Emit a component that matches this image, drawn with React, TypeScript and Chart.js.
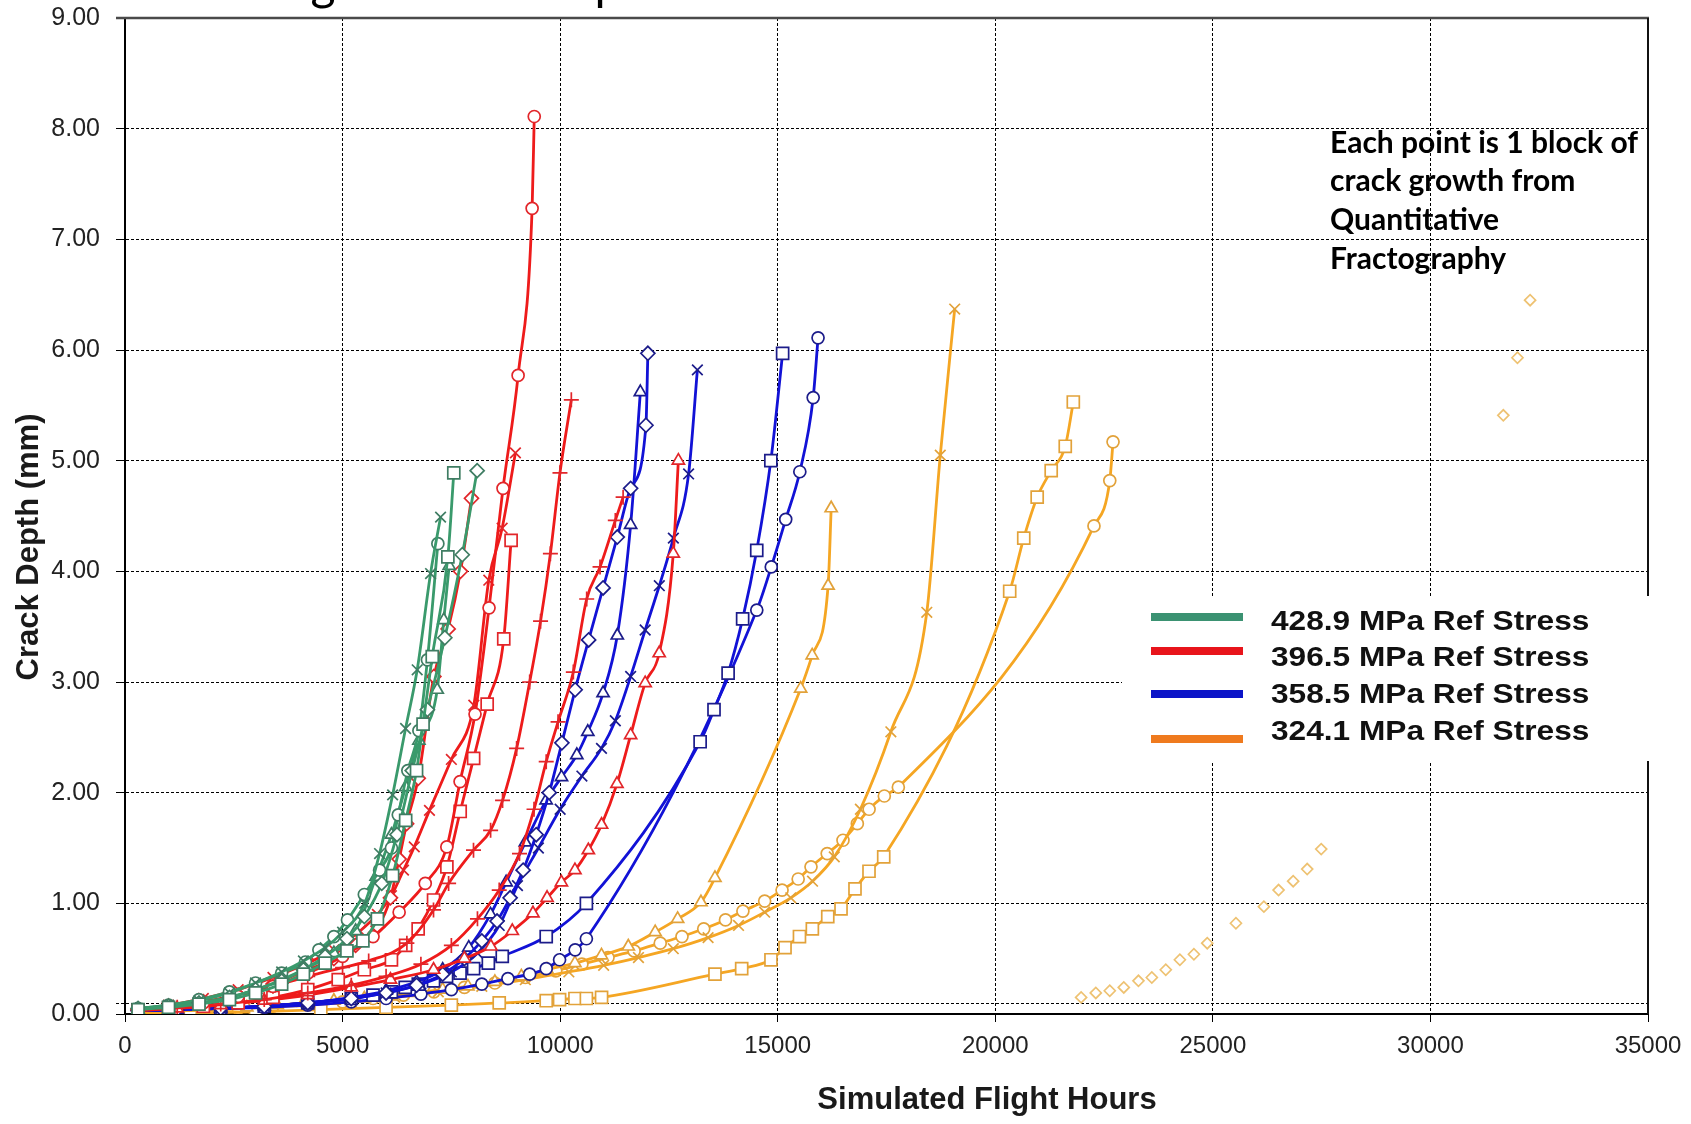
import React, { useEffect, useRef } from 'react';
import { Chart, registerables } from 'chart.js';

Chart.register(...registerables);

type P = [number, number];

// ---------- axis / text content ----------
const X_MIN = 0;
const X_MAX = 35000;
const X_STEP = 5000;
const Y_MIN = 0;
const Y_MAX = 9;
const Y_STEP = 1;
const REF_LINE_Y = 0.1;

const LEGEND_LABELS = ['428.9 MPa Ref Stress', '396.5 MPa Ref Stress', '358.5 MPa Ref Stress', '324.1 MPa Ref Stress'];
const NOTE_LINES = ['Each point is 1 block of', 'crack growth from', 'Quantitative', 'Fractography'];
const X_TITLE = 'Simulated Flight Hours';
const Y_TITLE = 'Crack Depth (mm)';
const PAGE_TITLE = 'Fatigue Crack Depth Results at Four Stress Levels';

// ---------- 428.9 MPa (green) ----------
const gSquare: P[] = [[300,0.04],[1000,0.06],[1700,0.09],[2400,0.13],[3000,0.19],[3600,0.27],[4100,0.36],[4600,0.46],[5100,0.57],[5467,0.66],[5800,0.86],[6150,1.25],[6450,1.75],[6700,2.2],[6850,2.62],[7061,3.23],[7420,4.13],[7556,4.89]];
const gDiamond: P[] = [[300,0.05],[1000,0.07],[1700,0.1],[2400,0.15],[3000,0.22],[3600,0.3],[4100,0.4],[4600,0.52],[5100,0.68],[5500,0.88],[5900,1.18],[6250,1.62],[6600,2.2],[6950,2.75],[7350,3.4],[7750,4.15],[8093,4.91]];
const gCross: P[] = [[300,0.05],[1000,0.08],[1700,0.12],[2400,0.19],[3000,0.28],[3600,0.38],[4100,0.48],[4600,0.6],[5000,0.74],[5507,1.0],[5850,1.45],[6150,1.98],[6448,2.58],[6715,3.11],[7022,3.98],[7252,4.49]];
const gCircle: P[] = [[300,0.05],[1000,0.08],[1700,0.13],[2400,0.2],[3000,0.28],[3600,0.37],[4146,0.47],[4455,0.58],[4800,0.7],[5113,0.85],[5500,1.08],[5850,1.3],[6123,1.5],[6280,1.8],[6500,2.2],[6754,2.56],[6950,3.2],[7190,4.25]];
const gTriangle: P[] = [[300,0.04],[1000,0.07],[1700,0.1],[2400,0.15],[3000,0.22],[3600,0.31],[4200,0.42],[4800,0.55],[5300,0.75],[5771,1.24],[6123,1.62],[6450,2.05],[6754,2.47],[7175,2.93],[7326,3.56],[7450,4.05]];

// ---------- 396.5 MPa (red) ----------
const rCircle: P[] = [[300,0.04],[1000,0.06],[1800,0.1],[2600,0.16],[3400,0.25],[4200,0.37],[5000,0.52],[5700,0.7],[6300,0.92],[6900,1.18],[7396,1.51],[7700,2.1],[8044,2.71],[8366,3.67],[8687,4.75],[9034,5.77],[9356,7.28],[9405,8.11]];
const rPlus: P[] = [[300,0.04],[1000,0.07],[1800,0.11],[2600,0.17],[3400,0.25],[4200,0.34],[5000,0.42],[5600,0.48],[6478,0.64],[7090,0.94],[7437,1.18],[8009,1.48],[8402,1.66],[8677,1.93],[9000,2.4],[9300,3.0],[9550,3.55],[9776,4.16],[9996,4.89],[10257,5.55]];
const rPlus2: P[] = [[300,0.04],[1200,0.06],[2200,0.09],[3200,0.13],[4200,0.19],[5200,0.26],[6000,0.34],[6800,0.45],[7500,0.62],[8100,0.86],[8600,1.12],[9066,1.45],[9400,1.85],[9680,2.28],[9952,2.64],[10303,3.09],[10610,3.75],[10917,4.04],[11268,4.46],[11447,4.67]];
const rSquare: P[] = [[300,0.03],[1000,0.05],[1800,0.07],[2600,0.1],[3400,0.15],[4200,0.22],[4900,0.31],[5500,0.4],[6123,0.49],[6450,0.62],[6737,0.77],[7091,1.03],[7397,1.33],[7703,1.83],[8012,2.31],[8323,2.8],[8704,3.39],[8873,4.28]];
const rDiamond: P[] = [[300,0.04],[1000,0.07],[1800,0.11],[2600,0.17],[3400,0.27],[4200,0.4],[4800,0.5],[5300,0.62],[5817,0.79],[6100,1.05],[6300,1.4],[6472,1.72],[6739,2.13],[7098,3.05],[7427,3.48],[7710,4.0],[7962,4.66]];
const rCross: P[] = [[300,0.04],[1000,0.08],[1800,0.14],[2600,0.22],[3400,0.33],[4200,0.46],[4800,0.58],[5400,0.75],[5800,0.9],[6123,1.07],[6400,1.3],[6648,1.51],[6997,1.84],[7500,2.3],[8016,2.79],[8360,3.92],[8667,4.39],[8972,5.07]];
const rTriangle: P[] = [[300,0.03],[1200,0.05],[2200,0.08],[3200,0.12],[4200,0.17],[5200,0.24],[6100,0.31],[7091,0.4],[7800,0.5],[8408,0.61],[8900,0.75],[9375,0.91],[9700,1.05],[10029,1.19],[10340,1.3],[10648,1.48],[10952,1.71],[11306,2.08],[11620,2.52],[11954,2.99],[12276,3.26],[12600,4.16],[12717,5.0]];

// ---------- 358.5 MPa (blue) ----------
const bDiamond: P[] = [[300,0.03],[1200,0.04],[2200,0.05],[3200,0.07],[4200,0.1],[5200,0.14],[6000,0.19],[6700,0.26],[7300,0.36],[7800,0.5],[8200,0.66],[8550,0.84],[8850,1.05],[9150,1.3],[9450,1.62],[9750,2.0],[10040,2.45],[10345,2.93],[10655,3.38],[10987,3.85],[11313,4.31],[11620,4.75],[11972,5.32],[12016,5.97]];
const bTriangle: P[] = [[300,0.03],[1200,0.04],[2200,0.05],[3200,0.07],[4200,0.1],[5200,0.15],[6000,0.21],[6700,0.29],[7300,0.4],[7900,0.6],[8400,0.9],[8759,1.19],[9200,1.55],[9678,1.93],[10031,2.14],[10383,2.34],[10636,2.55],[10987,2.9],[11313,3.42],[11620,4.42],[11843,5.62]];
const bCross: P[] = [[300,0.03],[1200,0.04],[2200,0.05],[3200,0.07],[4200,0.1],[5200,0.14],[6000,0.19],[6800,0.27],[7500,0.38],[8100,0.55],[8600,0.8],[9019,1.16],[9500,1.5],[10000,1.85],[10500,2.15],[10950,2.4],[11268,2.65],[11620,3.05],[11954,3.47],[12279,3.87],[12602,4.3],[12952,4.88],[13154,5.82]];
const bSquare: P[] = [[300,0.03],[1200,0.04],[2200,0.05],[3200,0.07],[4200,0.1],[5200,0.14],[5700,0.17],[6120,0.2],[6440,0.24],[6740,0.27],[7090,0.3],[7390,0.34],[7700,0.37],[8011,0.41],[8350,0.46],[8670,0.52],[9680,0.7],[10603,1.0],[13217,2.46],[13536,2.75],[13860,3.08],[14194,3.57],[14518,4.19],[14842,5.0],[15113,5.97]];
const bCircle: P[] = [[300,0.03],[1200,0.04],[2200,0.05],[3200,0.06],[4200,0.08],[5200,0.11],[6000,0.14],[6800,0.18],[7500,0.22],[8200,0.27],[8800,0.32],[9300,0.36],[9680,0.41],[9987,0.49],[10345,0.58],[10603,0.68],[14519,3.65],[14852,4.04],[15184,4.47],[15508,4.9],[15815,5.57],[15927,6.11]];

// ---------- 324.1 MPa (orange) ----------
const oTriangle: P[] = [[300,0.02],[1000,0.03],[1800,0.04],[2800,0.06],[3500,0.08],[4100,0.1],[4800,0.12],[5500,0.14],[6100,0.16],[6650,0.19],[7300,0.22],[7880,0.25],[8500,0.29],[9108,0.34],[9700,0.4],[10340,0.46],[10950,0.53],[11566,0.61],[12184,0.74],[12700,0.86],[13236,1.01],[13558,1.23],[15527,2.94],[15792,3.24],[16158,3.87],[16229,4.57]];
const oCross: P[] = [[300,0.02],[1200,0.03],[2200,0.04],[3200,0.06],[4200,0.08],[5200,0.11],[6200,0.15],[7200,0.2],[8200,0.25],[9200,0.31],[10200,0.38],[11000,0.44],[11800,0.51],[12600,0.59],[13400,0.69],[14100,0.8],[14700,0.92],[15300,1.05],[15800,1.2],[16300,1.42],[16900,1.85],[17600,2.55],[18426,3.63],[18736,5.05],[19067,6.37]];
const oSquare: P[] = [[300,0.0],[1500,0.01],[3000,0.02],[4500,0.04],[6000,0.06],[7500,0.08],[8600,0.1],[9680,0.12],[9987,0.13],[10340,0.14],[10603,0.14],[10952,0.15],[13558,0.36],[14172,0.41],[14845,0.49],[15168,0.6],[15500,0.7],[15796,0.77],[16150,0.88],[16455,0.95],[16776,1.13],[17098,1.29],[17436,1.42],[20331,3.82],[20654,4.3],[20963,4.67],[21285,4.91],[21608,5.13],[21793,5.53]];
const oCircle: P[] = [[300,0.02],[1000,0.03],[1800,0.04],[2600,0.05],[3400,0.07],[4200,0.09],[5000,0.11],[5700,0.14],[6400,0.17],[7100,0.2],[7800,0.24],[8500,0.28],[9200,0.33],[9900,0.39],[10500,0.45],[11100,0.51],[11700,0.57],[12300,0.64],[12800,0.7],[13300,0.77],[13800,0.85],[14200,0.93],[14700,1.02],[15100,1.12],[15470,1.22],[15765,1.33],[16137,1.45],[16500,1.57],[16830,1.72],[17100,1.85],[17450,1.97],[17772,2.05],[22268,4.41],[22631,4.82],[22706,5.17]];
const oDiamondA: P[] = [[21973,0.15],[22310,0.19],[22631,0.21],[22953,0.24],[23290,0.3],[23597,0.33],[23918,0.4],[24242,0.49],[24564,0.54],[24871,0.64],[25530,0.82],[26173,0.97],[26510,1.12],[26846,1.2],[27168,1.31],[27490,1.49]];
const oDiamondB: P[] = [[31675,5.41],[32000,5.93],[32291,6.45]];

// ---------- series table (group = stress level index) ----------
type Spec = { data: P[]; group: number; shape: string; line: boolean; pale?: boolean };
const SERIES: Spec[] = [
  { data: gSquare, group: 0, shape: 'rect', line: true },
  { data: gDiamond, group: 0, shape: 'rectRot', line: true },
  { data: gCross, group: 0, shape: 'crossRot', line: true },
  { data: gCircle, group: 0, shape: 'circle', line: true },
  { data: gTriangle, group: 0, shape: 'triangle', line: true },
  { data: rCircle, group: 1, shape: 'circle', line: true },
  { data: rPlus, group: 1, shape: 'cross', line: true },
  { data: rPlus2, group: 1, shape: 'cross', line: true },
  { data: rSquare, group: 1, shape: 'rect', line: true },
  { data: rDiamond, group: 1, shape: 'rectRot', line: true },
  { data: rCross, group: 1, shape: 'crossRot', line: true },
  { data: rTriangle, group: 1, shape: 'triangle', line: true },
  { data: bDiamond, group: 2, shape: 'rectRot', line: true },
  { data: bTriangle, group: 2, shape: 'triangle', line: true },
  { data: bCross, group: 2, shape: 'crossRot', line: true },
  { data: bSquare, group: 2, shape: 'rect', line: true },
  { data: bCircle, group: 2, shape: 'circle', line: true },
  { data: oTriangle, group: 3, shape: 'triangle', line: true },
  { data: oCross, group: 3, shape: 'crossRot', line: true },
  { data: oSquare, group: 3, shape: 'rect', line: true },
  { data: oCircle, group: 3, shape: 'circle', line: true },
  { data: oDiamondA, group: 3, shape: 'rectRot', line: false, pale: true },
  { data: oDiamondB, group: 3, shape: 'rectRot', line: false, pale: true },
];

// ---------- styles ----------
const LINE_COLORS = ['#3a9a6c', '#ee1b1b', '#1212d6', '#f5a623'];
const MARKER_COLORS = ['#3f7d63', '#e2262a', '#1c1c8a', '#e2a23a'];
const PALE_MARKER = '#eec272';
const LEGEND_COLORS = ['#3b9272', '#e8141b', '#0b14c8', '#ef7a1e'];
const RADIUS: Record<string, number> = { rect: 8.5, circle: 6, rectRot: 7, triangle: 7, cross: 7.5, crossRot: 7.5 };
const AXIS_FONT = '"Liberation Sans", Arial, sans-serif';

const overlayPlugin = {
  id: 'overlay',
  beforeDatasetsDraw(chart: any) {
    const { ctx, chartArea: a, scales } = chart;
    ctx.save();
    // reference dashed line
    const yy = Math.round(scales.y.getPixelForValue(REF_LINE_Y)) + 0.5;
    ctx.strokeStyle = '#000';
    ctx.lineWidth = 1;
    ctx.setLineDash([3, 2]);
    ctx.beginPath();
    ctx.moveTo(a.left - 9, yy);
    ctx.lineTo(a.right, yy);
    ctx.stroke();
    ctx.setLineDash([]);
    // top frame line
    ctx.strokeStyle = '#4a4a4a';
    ctx.lineWidth = 2.5;
    ctx.beginPath();
    ctx.moveTo(a.left - 9, a.top);
    ctx.lineTo(a.right + 1, a.top);
    ctx.stroke();
    // right frame line
    ctx.strokeStyle = '#111';
    ctx.lineWidth = 2;
    ctx.beginPath();
    ctx.moveTo(a.right, a.top);
    ctx.lineTo(a.right, a.bottom);
    ctx.stroke();
    // legend backing box
    ctx.fillStyle = '#fff';
    ctx.fillRect(1122, 596, 545, 165);
    ctx.restore();
  },
  afterDraw(chart: any) {
    const { ctx } = chart;
    ctx.save();
    // cut-off page title (only descenders show)
    let size = 60;
    ctx.font = `${size}px Lato`;
    const gi = PAGE_TITLE.indexOf('g');
    const pi = PAGE_TITLE.indexOf('p');
    const center = (i: number) => ctx.measureText(PAGE_TITLE.slice(0, i)).width + ctx.measureText(PAGE_TITLE[i]).width / 2;
    const d = center(pi) - center(gi);
    size = (size * 285) / d;
    ctx.font = `${size}px Lato`;
    ctx.fillStyle = '#000';
    ctx.textBaseline = 'alphabetic';
    ctx.textAlign = 'left';
    ctx.fillText(PAGE_TITLE, 323 - center(gi), 0);

    // note text
    ctx.font = 'bold 30px Lato';
    ctx.textBaseline = 'middle';
    const noteY = [143, 181, 220, 259];
    NOTE_LINES.forEach((t, i) => ctx.fillText(t, 1330, noteY[i]));

    // axis titles
    ctx.fillStyle = '#1a1a1a';
    ctx.font = `bold 31px ${AXIS_FONT}`;
    ctx.textAlign = 'center';
    ctx.fillText(X_TITLE, 987, 1100);
    ctx.save();
    ctx.translate(29, 547);
    ctx.rotate(-Math.PI / 2);
    ctx.fillText(Y_TITLE, 0, 0);
    ctx.restore();

    // legend
    const lineYs = [617, 651, 694, 739];
    const textYs = [622, 658, 695, 732];
    LEGEND_LABELS.forEach((label, i) => {
      ctx.fillStyle = LEGEND_COLORS[i];
      ctx.fillRect(1151, lineYs[i] - 4, 92, 8);
      ctx.fillStyle = '#111';
      ctx.font = `bold 28px ${AXIS_FONT}`;
      ctx.textAlign = 'left';
      ctx.save();
      ctx.translate(1271, textYs[i]);
      ctx.scale(1.13, 1);
      ctx.fillText(label, 0, 0);
      ctx.restore();
    });
    ctx.restore();
  },
};

export default function App() {
  const ref = useRef<HTMLCanvasElement | null>(null);

  useEffect(() => {
    if (!ref.current) return;
    const datasets = SERIES.map((s) => {
      const mc = s.pale ? PALE_MARKER : MARKER_COLORS[s.group];
      return {
        data: s.data.map(([x, y]) => ({ x, y })),
        showLine: s.line,
        borderColor: LINE_COLORS[s.group],
        borderWidth: 2.8,
        cubicInterpolationMode: 'monotone' as const,
        pointStyle: s.shape,
        pointRadius: s.pale ? 5.5 : RADIUS[s.shape],
        pointBorderWidth: 1.7,
        pointBorderColor: mc,
        pointBackgroundColor: '#ffffff',
        fill: false,
      };
    });

    const chart = new Chart(ref.current, {
      type: 'line',
      data: { datasets } as any,
      options: {
        responsive: false,
        animation: false,
        devicePixelRatio: 1,
        layout: { padding: { top: 18, right: 43, left: 0, bottom: 0 } },
        plugins: { legend: { display: false }, tooltip: { enabled: false }, title: { display: false } },
        scales: {
          x: {
            type: 'linear',
            min: X_MIN,
            max: X_MAX,
            ticks: {
              stepSize: X_STEP,
              color: '#222',
              font: { family: AXIS_FONT, size: 24 },
              padding: 10,
              maxRotation: 0,
              autoSkip: false,
              callback: (v: any) => String(v),
            },
            grid: { color: '#000', lineWidth: 1, tickLength: 8, tickColor: '#000' },
            border: { color: '#000', width: 2, dash: [3, 2] },
            afterFit: (s: any) => {
              s.height = 110;
              s.paddingLeft = 0;
              s.paddingRight = 0;
            },
          },
          y: {
            type: 'linear',
            min: Y_MIN,
            max: Y_MAX,
            ticks: {
              stepSize: Y_STEP,
              color: '#222',
              font: { family: AXIS_FONT, size: 25 },
              padding: 16,
              callback: (v: any) => Number(v).toFixed(2),
            },
            grid: { color: '#000', lineWidth: 1, tickLength: 9, tickColor: '#000' },
            border: { color: '#000', width: 2, dash: [3, 2] },
            afterFit: (s: any) => {
              s.width = 125;
              s.paddingTop = 0;
              s.paddingBottom = 0;
            },
          },
        },
      } as any,
      plugins: [overlayPlugin],
    });
    return () => chart.destroy();
  }, []);

  return (
    <div style={{ position: 'absolute', left: 0, top: 0, width: 1691, height: 1124, background: '#fff' }}>
      <canvas ref={ref} width={1691} height={1124} style={{ display: 'block', width: '1691px', height: '1124px' }} />
    </div>
  );
}
